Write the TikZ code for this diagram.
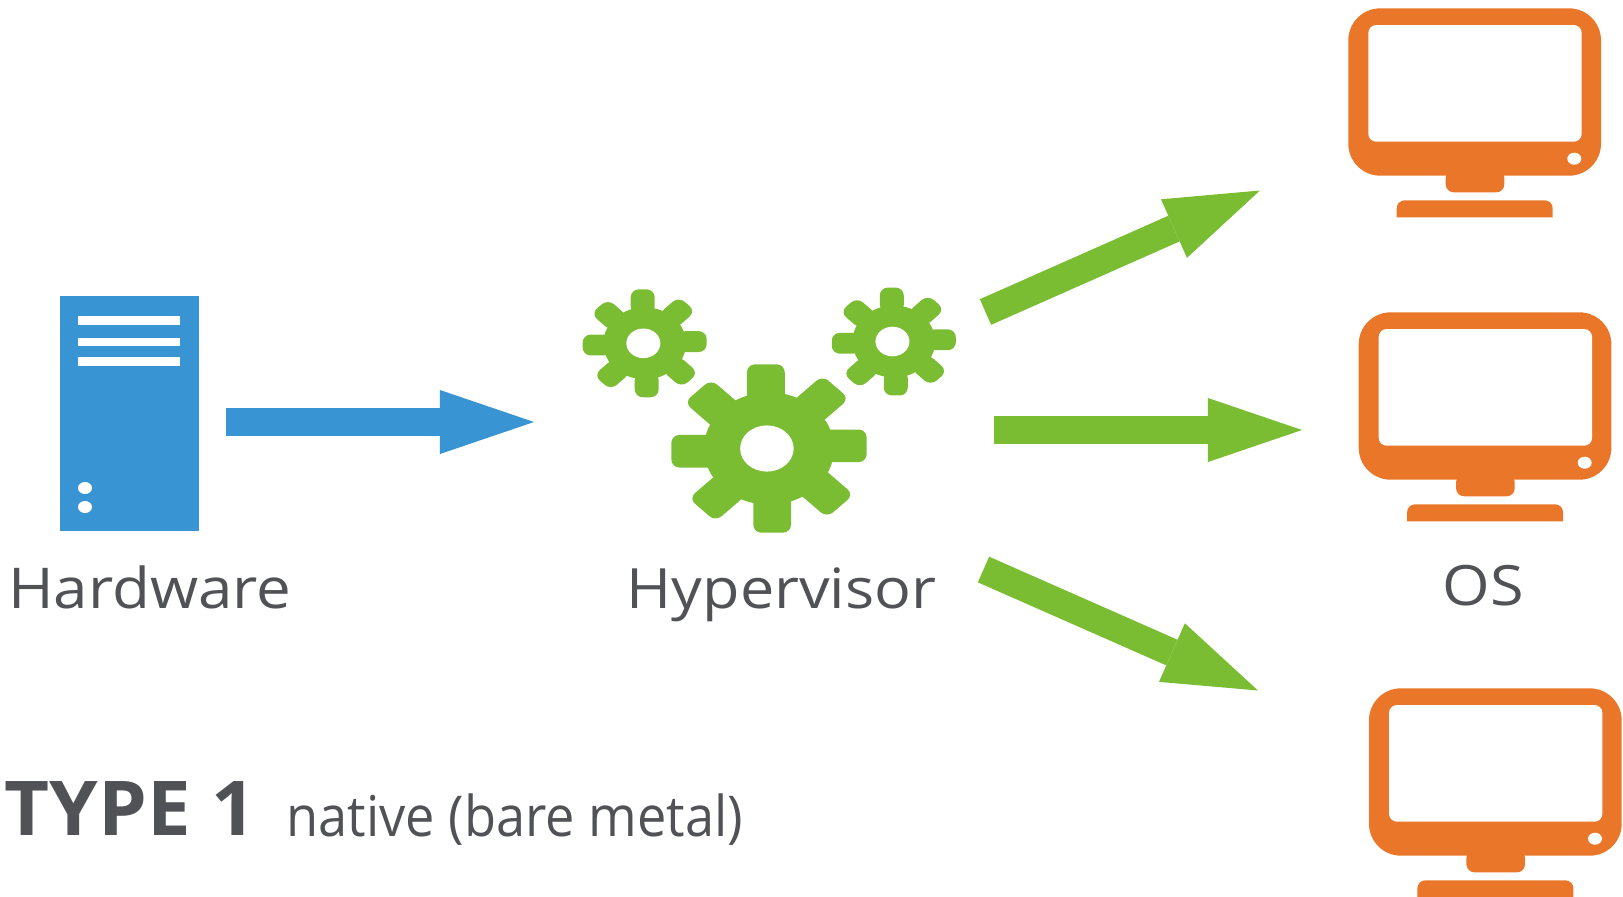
\documentclass[tikz,border=0pt]{standalone}
\usepackage{fontspec}
\setmainfont{Open Sans}[FakeStretch=1.1]
\newfontfamily\nativefont{Open Sans}[FakeStretch=0.93]
\newfontfamily\typefont{Open Sans}[FakeStretch=1.03]
\usetikzlibrary{arrows.meta}
\definecolor{hwblue}{HTML}{3894D2}
\definecolor{hvgreen}{HTML}{7ABD33}
\definecolor{osorange}{HTML}{EA762A}
\definecolor{labelgray}{HTML}{505256}
\tikzset{
  flowarrow/.style={line width=0.28cm,-{Triangle[length=0.94cm,width=0.64cm,line width=0pt]}},
  textlabel/.style={inner sep=0,anchor=base west,color=labelgray},
  pics/gear/.style={code={
    \fill[color=hvgreen] (0,0) circle (62);
    \foreach \a in {0,45,...,315}
      \fill[color=hvgreen,rotate=\a,rounded corners=0.08cm] (50,-21) rectangle (93,15);
    \fill[color=white] (-2,0) circle (25.5);
  }},
  pics/monitor/.style={code={
    \fill[color=osorange,rounded corners=0.08cm] (1445.7,170) rectangle (1504.3,192.3);
    \fill[color=osorange,rounded corners=0.32cm] (1348.3,8.3) rectangle (1601,175.7);
    \fill[color=white,rounded corners=0.08cm] (1368.3,25) rectangle (1581.7,141.7);
    \fill[color=white] (1574.3,158.7) ellipse (7 and 6);
    \fill[color=osorange,rounded corners=0.08cm] (1396.7,217.3) -- (1396.7,200.3) -- (1552.7,200.3) [sharp corners] -- (1552.7,217.3) -- cycle;
  }}
}
\begin{document}
\begin{tikzpicture}[x=0.01cm,y=-0.01cm]
\useasboundingbox (0,0) rectangle (1623,896);
\clip (0,0) rectangle (1623,896);

\fill[color=hwblue] (60,296) rectangle (199,531);
\fill[color=white] (78,316) rectangle (180,325);
\fill[color=white] (78,338) rectangle (180,346);
\fill[color=white] (78,357) rectangle (180,366);
\fill[color=white] (85,488) ellipse (7 and 6);
\fill[color=white] (85,507) ellipse (7 and 6);

\pic[xscale=0.667,yscale=0.58] at (644.7,343.3) {gear};
\pic[xscale=0.667,yscale=0.58] at (893.8,341.5) {gear};
\pic[xscale=1.05,yscale=0.905] at (769,448.5) {gear};

\pic at (0,0) {monitor};
\pic at (10.4,304) {monitor};
\pic at (20.7,680) {monitor};

\coordinate (hwout) at (226,422);
\coordinate (hvin) at (534,422);
\coordinate (hvtop) at (985.5,312);
\coordinate (ostop) at (1260,190.5);
\coordinate (hvmid) at (994,430);
\coordinate (osmid) at (1302,430);
\coordinate (hvlow) at (983.5,569.5);
\coordinate (oslow) at (1258,690.5);

\draw[flowarrow,color=hwblue] (hwout) -- (hvin);
\draw[flowarrow,color=hvgreen] (hvtop) -- (ostop);
\draw[flowarrow,color=hvgreen] (hvmid) -- (osmid);
\draw[flowarrow,color=hvgreen] (hvlow) -- (oslow);

\node[textlabel,font=\fontsize{16}{16}\selectfont] (hardware) at (7.5,608.7) {Hardware};
\node[textlabel,font=\fontsize{15.8}{15.8}\selectfont] (hypervisor) at (626,608.7) {Hypervisor};
\node[textlabel,font=\fontsize{15.8}{15.8}\selectfont] (os) at (1442,605.5) {OS};
\node[textlabel,font=\typefont\bfseries\fontsize{21.5}{21.5}\selectfont] (type) at (4,835) {TYPE 1};
\node[textlabel,font=\nativefont\fontsize{16}{16}\selectfont] (native) at (286,836.5) {native (bare metal)};
\end{tikzpicture}
\end{document}
